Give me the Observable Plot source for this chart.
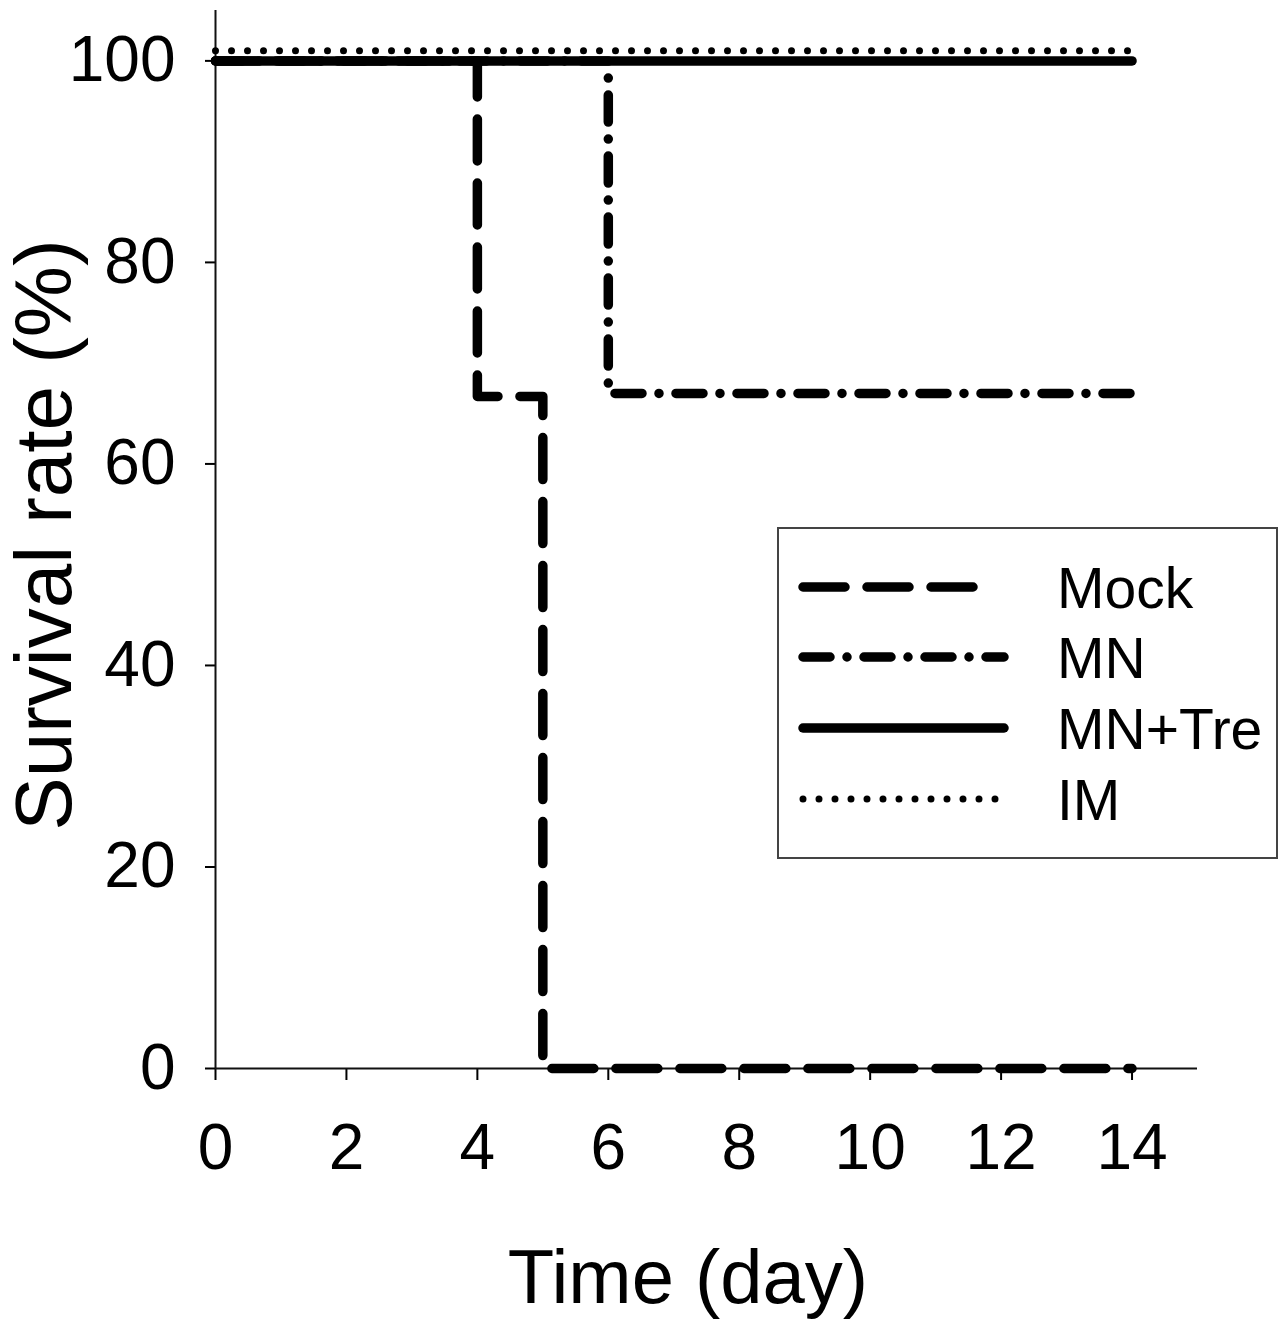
<!DOCTYPE html>
<html>
<head>
<meta charset="utf-8">
<script src="https://cdn.jsdelivr.net/npm/d3@7"></script>
<script src="https://cdn.jsdelivr.net/npm/@observablehq/plot@0.6"></script>
<style>
  html, body { margin: 0; padding: 0; background: #fff; }
  #chart { width: 1284px; height: 1322px; }
</style>
</head>
<body>
<div id="chart"></div>
<script>
// ---- data ----
const groups = ["Mock", "MN", "MN+Tre", "IM"];
const mockDay = [0, 4, 5, 14];
const mockRate = [100, 66.7, 0, 0];
const mnDay = [0, 6, 14];
const mnRate = [100, 67, 67];
const mnTreDay = [0, 14];
const mnTreRate = [100, 100];
const imDay = [0, 14];
const imRate = [101, 101];
const xTicks = [0, 2, 4, 6, 8, 10, 12, 14];
const yTicks = [0, 20, 40, 60, 80, 100];
const xTitle = "Time (day)";
const yTitle = "Survival rate (%)";

// ---- styles ----
const W = 9.5;
const dashes = {
  "Mock": "42 22",
  "MN": "27 17 0 17",
  "MN+Tre": null,
  "IM": "0 16"
};
const widths = {"Mock": W, "MN": W, "MN+Tre": W, "IM": 7};

const series = {
  "Mock": mockDay.map((d, i) => ({group: "Mock", day: d, rate: mockRate[i]})),
  "MN": mnDay.map((d, i) => ({group: "MN", day: d, rate: mnRate[i]})),
  "MN+Tre": mnTreDay.map((d, i) => ({group: "MN+Tre", day: d, rate: mnTreRate[i]})),
  "IM": imDay.map((d, i) => ({group: "IM", day: d, rate: imRate[i]}))
};

const font = "'Liberation Sans', Arial, Helvetica, sans-serif";
const drawOrder = ["IM", "MN+Tre", "MN", "Mock"];

const plot = Plot.plot({
  width: 1284,
  height: 1322,
  marginLeft: 215,
  marginRight: 87,
  marginTop: 10,
  marginBottom: 254,
  style: {fontFamily: font, fontSize: "64px", color: "#000", background: "#fff"},
  x: {domain: [0, 15]},
  y: {domain: [0, 105]},
  marks: [
    Plot.axisX({ticks: xTicks, tickSize: 12, tickPadding: 43, fontSize: 64, label: null, strokeWidth: 2, tickFormat: d => String(d)}),
    Plot.axisY({ticks: yTicks, tickSize: 10, tickPadding: 30, fontSize: 64, label: null, strokeWidth: 2, tickFormat: d => String(d)}),
    Plot.ruleY([0], {stroke: "#111", strokeWidth: 2}),
    Plot.ruleX([0], {stroke: "#111", strokeWidth: 2}),
    ...drawOrder.map(g => Plot.line(series[g], {
      x: "day", y: "rate", curve: "step-after",
      stroke: "#000", strokeWidth: widths[g],
      strokeDasharray: dashes[g] || undefined,
      strokeLinecap: "round", strokeLinejoin: "round"
    }))
  ]
});

document.getElementById("chart").appendChild(plot);

// ---- axis titles and legend (layout elements) ----
const svg = d3.select(plot);
svg.append("text")
  .attr("x", 688).attr("y", 1303)
  .attr("text-anchor", "middle")
  .attr("font-family", font).attr("font-size", 76).attr("fill", "#000")
  .text(xTitle);
svg.append("text")
  .attr("transform", "translate(71,535) rotate(-90)")
  .attr("text-anchor", "middle")
  .attr("font-family", font).attr("font-size", 80).attr("fill", "#000")
  .text(yTitle);

const lg = svg.append("g").attr("text-anchor", "start");
lg.append("rect")
  .attr("x", 778).attr("y", 528).attr("width", 499).attr("height", 330)
  .attr("fill", "#fff").attr("stroke", "#444").attr("stroke-width", 2);
const legendY = [587, 657, 728, 799];
const legendEnd = {"Mock": 981, "MN": 1004, "MN+Tre": 1004, "IM": 1000};
groups.forEach((g, i) => {
  const l = lg.append("line")
    .attr("x1", 803).attr("x2", legendEnd[g])
    .attr("y1", legendY[i]).attr("y2", legendY[i])
    .attr("stroke", "#000").attr("stroke-width", widths[g])
    .attr("stroke-linecap", "round");
  if (dashes[g]) l.attr("stroke-dasharray", dashes[g]);
  lg.append("text")
    .attr("x", 1057).attr("y", legendY[i] + 21)
    .attr("text-anchor", "start")
    .attr("font-family", font).attr("font-size", 57).attr("fill", "#000")
    .text(g);
});
</script>
</body>
</html>
